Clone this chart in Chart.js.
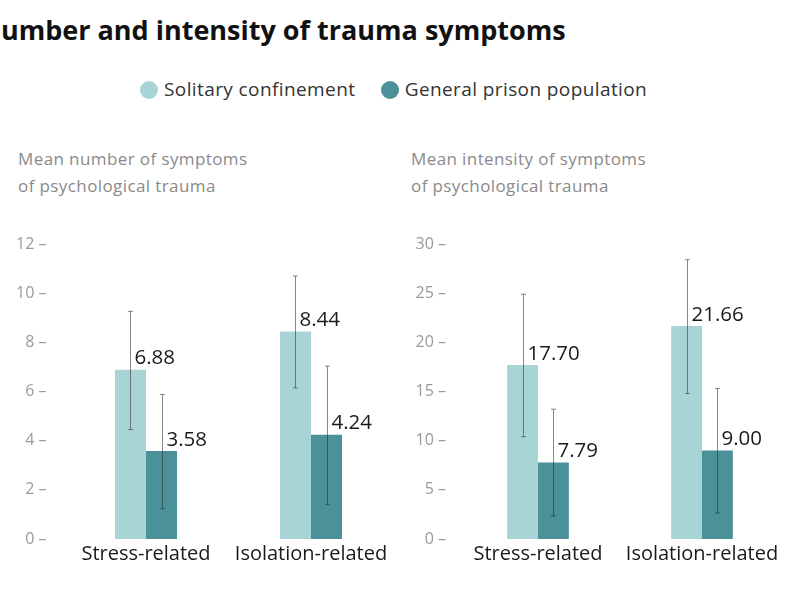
<!DOCTYPE html>
<html>
<head>
<meta charset="utf-8">
<script src="https://cdn.jsdelivr.net/npm/chart.js@4"></script>
<style>
    body { margin: 0; width: 800px; height: 600px; overflow: hidden; background: #fff; font-family: "Open Sans", sans-serif; position: relative; }
    #title { position: absolute; left: -21px; top: 11px; font-size: 27px; font-weight: bold; color: #111; white-space: nowrap; }
    #legend { position: absolute; left: 140px; top: 76px; font-size: 19px; letter-spacing: 0.4px; color: #333; white-space: nowrap; }
    #legend span.dot { display: inline-block; width: 18px; height: 18px; border-radius: 50%; vertical-align: -3px; margin-right: 6px; }
    .axis-title { position: absolute; top: 145px; font-size: 17px; letter-spacing: 0.4px; color: #8a8a8a; line-height: 27px; }
    .box { position: absolute; top: 210px; width: 400px; height: 380px; }
</style>
</head>
<body>
<div id="title">Number and intensity of trauma symptoms</div>
<div id="legend">
    <span class="dot" style="background:#a9d4d6"></span>Solitary confinement
    <span class="dot" style="background:#4a9199;margin-left:20px"></span>General prison population
</div>
<div class="axis-title" style="left:18px">Mean number of symptoms<br>of psychological trauma</div>
<div class="axis-title" style="left:411px">Mean intensity of symptoms<br>of psychological trauma</div>
<div class="box" style="left:0"><canvas id="numberChart"></canvas></div>
<div class="box" style="left:400px"><canvas id="intensityChart"></canvas></div>

<script>
const categories = ['Stress-related', 'Isolation-related'];
const seriesNames = ['Solitary confinement', 'General prison population'];

const numberSolitary = [6.88, 8.44];
const numberGeneral = [3.58, 4.24];
const numberSolitaryLow = [4.45, 6.15];
const numberSolitaryHigh = [9.26, 10.7];
const numberGeneralLow = [1.23, 1.41];
const numberGeneralHigh = [5.88, 7.03];

const intensitySolitary = [17.70, 21.66];
const intensityGeneral = [7.79, 9.00];
const intensitySolitaryLow = [10.4, 14.8];
const intensitySolitaryHigh = [24.9, 28.4];
const intensityGeneralLow = [2.35, 2.65];
const intensityGeneralHigh = [13.2, 15.3];

const numberTicks = [0, 2, 4, 6, 8, 10, 12];
const intensityTicks = [0, 5, 10, 15, 20, 25, 30];

const lightColor = '#a9d4d6';
const darkColor = '#4a9199';

// error bars + value labels drawn on top of the bars
const barExtras = {
    id: 'barExtras',
    afterDatasetsDraw(chart) {
        const ctx = chart.ctx;
        const yScale = chart.scales.y;
        chart.data.datasets.forEach((ds, di) => {
            const meta = chart.getDatasetMeta(di);
            meta.data.forEach((bar, i) => {
                const x = Math.round(bar.x) + 0.5;
                const yTop = yScale.getPixelForValue(ds.errHigh[i]);
                const yBot = yScale.getPixelForValue(ds.errLow[i]);
                ctx.save();
                ctx.strokeStyle = 'rgba(40,40,40,0.55)';
                ctx.lineWidth = 1;
                ctx.beginPath();
                ctx.moveTo(x, yTop);
                ctx.lineTo(x, yBot);
                ctx.moveTo(x - 2.5, yTop);
                ctx.lineTo(x + 2.5, yTop);
                ctx.moveTo(x - 2.5, yBot);
                ctx.lineTo(x + 2.5, yBot);
                ctx.stroke();

                ctx.fillStyle = '#1a1a1a';
                ctx.font = '20.5px "Open Sans", sans-serif';
                ctx.textAlign = 'left';
                ctx.textBaseline = 'bottom';
                ctx.fillText(ds.data[i].toFixed(2), x + 4, bar.y - 1);
                ctx.restore();
            });
        });
    }
};

function makeChart(canvasId, solitary, general, solLow, solHigh, genLow, genHigh, tickValues, axisWidth, tickPad, rightPad) {
    const ctx = document.getElementById(canvasId).getContext('2d');
    return new Chart(ctx, {
        type: 'bar',
        data: {
            labels: categories,
            datasets: [
                {
                    label: seriesNames[0],
                    data: solitary,
                    errLow: solLow,
                    errHigh: solHigh,
                    backgroundColor: lightColor,
                    barPercentage: 1,
                    categoryPercentage: 0.376
                },
                {
                    label: seriesNames[1],
                    data: general,
                    errLow: genLow,
                    errHigh: genHigh,
                    backgroundColor: darkColor,
                    barPercentage: 1,
                    categoryPercentage: 0.376
                }
            ]
        },
        options: {
            responsive: true,
            maintainAspectRatio: false,
            animation: false,
            layout: { padding: { top: 34, right: rightPad, left: 0, bottom: 21 } },
            plugins: {
                legend: { display: false },
                tooltip: { enabled: false }
            },
            scales: {
                x: {
                    grid: { display: false, drawTicks: false },
                    border: { display: false },
                    ticks: {
                        color: '#1a1a1a',
                        padding: 3,
                        font: { family: '"Open Sans", sans-serif', size: 20 }
                    }
                },
                y: {
                    min: tickValues[0],
                    max: tickValues[tickValues.length - 1],
                    afterBuildTicks: function (scale) {
                        scale.ticks = tickValues.map(v => ({ value: v }));
                    },
                    afterFit: function (scale) {
                        scale.width = axisWidth;
                    },
                    grid: { display: false, drawTicks: false },
                    border: { display: false },
                    ticks: {
                        color: '#9a9a9a',
                        padding: tickPad,
                        font: { family: '"Open Sans", sans-serif', size: 16 },
                        callback: v => v + ' \u2013'
                    }
                }
            }
        },
        plugins: [barExtras]
    });
}

makeChart('numberChart', numberSolitary, numberGeneral,
    numberSolitaryLow, numberSolitaryHigh, numberGeneralLow, numberGeneralHigh, numberTicks, 63.5, 17, 6.5);
makeChart('intensityChart', intensitySolitary, intensityGeneral,
    intensitySolitaryLow, intensitySolitaryHigh, intensityGeneralLow, intensityGeneralHigh, intensityTicks, 56, 10, 16);
</script>
</body>
</html>
